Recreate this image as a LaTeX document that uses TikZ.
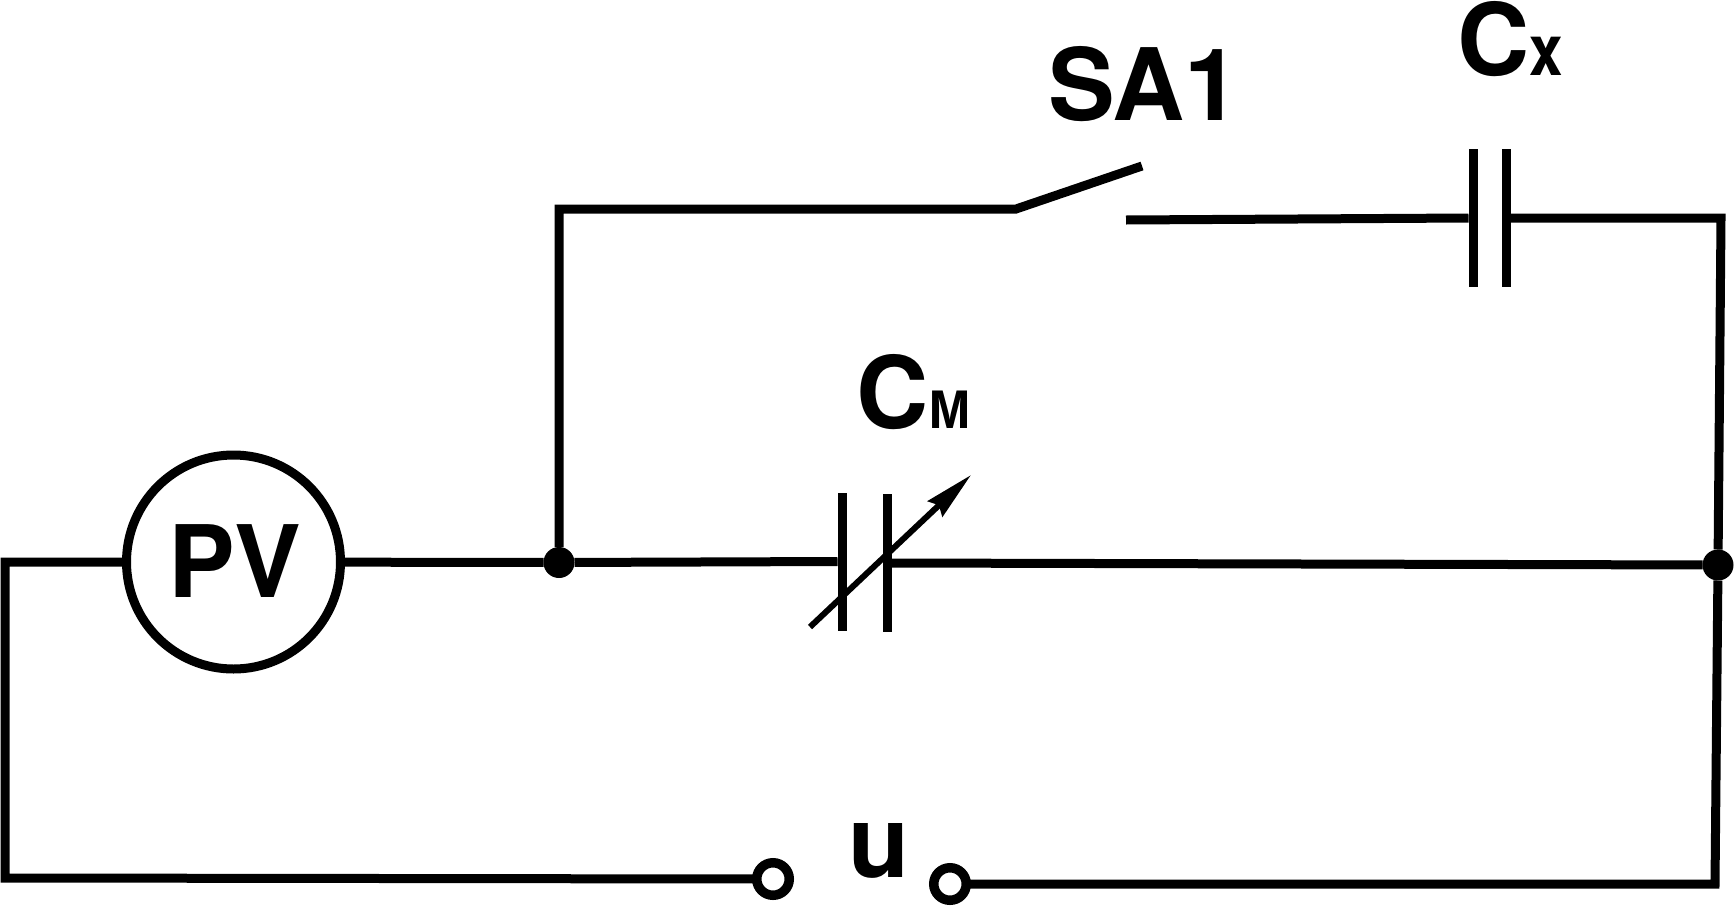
\documentclass[tikz,border=0pt]{standalone}
\usepackage{fontspec}
\setmainfont{TeX Gyre Heros}
\newfontfamily\cyrfont{Liberation Sans}
\usetikzlibrary{arrows.meta}
\newcommand{\biglabel}{\fontsize{100}{100}\selectfont\bfseries}
\newcommand{\sublabel}{\fontsize{71}{71}\selectfont\bfseries}
\tikzset{
  wire/.style={line width=9pt},
  meter/.style={circle, draw, line width=9pt, inner sep=0, outer sep=0, minimum size=214pt},
  junction/.style={circle, fill=black, inner sep=0, outer sep=0, minimum size=31pt},
  terminal/.style={circle, draw, fill=white, line width=9.5pt, inner sep=0, outer sep=0, minimum size=32.5pt},
  plate/.style={rectangle, fill=black, inner sep=0, outer sep=0, minimum width=9pt, minimum height=138pt},
  caption/.style={inner sep=0, outer sep=0, anchor=base west, font=\biglabel}
}
\begin{document}
\begin{tikzpicture}[x=1pt, y=-1pt]
  \useasboundingbox (0,0) rectangle (1734,905);
  \node[meter] (pv) at (233.5,562) {};
  \node[junction] (ja) at (559,562.5) {};
  \node[junction] (jb) at (1718,565) {};
  \node[terminal] (ul) at (773,879) {};
  \node[terminal] (ur) at (950,884) {};
  \node[plate] (cma) at (842,561.5) {};
  \node[plate] (cmb) at (887,563) {};
  \node[plate] (cxa) at (1473,218) {};
  \node[plate] (cxb) at (1506.5,218) {};
  \coordinate (lefttop) at (5,562);
  \coordinate (leftbot) at (5,878);
  \coordinate (topleft) at (559,209);
  \coordinate (swhinge) at (1016,209);
  \coordinate (swtip) at (1142,166);
  \coordinate (swfixed) at (1126,220);
  \coordinate (cxcorner) at (1721,218);
  \coordinate (botcorner) at (1715,884);
  \coordinate (tunea) at (810,627);
  \coordinate (tuneb) at (971,475);
  \draw[wire] (pv) -- (lefttop) -- (leftbot) -- (ul);
  \draw[wire] (pv) -- (ja);
  \draw[wire] (ja) -- (cma.west);
  \draw[wire] (cmb.east) -- (jb);
  \draw[wire] (ja) -- (topleft) -- (swhinge) -- (swtip);
  \draw[wire] (swfixed) -- (cxa.west);
  \draw[wire] (cxb.east) -- (cxcorner) -- (jb);
  \draw[wire] (jb) -- (botcorner) -- (ur);
  \draw[line width=6pt, -{Stealth[length=49pt, width=21pt, inset=5pt]}] (tunea) -- (tuneb);
  \node[caption] (pvname) at (168,597) {PV};
  \node[caption] (swname) at (1048,120) {SA1};
  \node[caption] (cxname) at (1457,75) {C{\sublabel\scalebox{.85}[1]{x}}};
  \node[caption] (cmname) at (856,428) {C{\sublabel\cyrfont\scalebox{.82}[1]{м}}};
  \node[caption] (uname) at (848,877) {u};
\end{tikzpicture}
\end{document}
